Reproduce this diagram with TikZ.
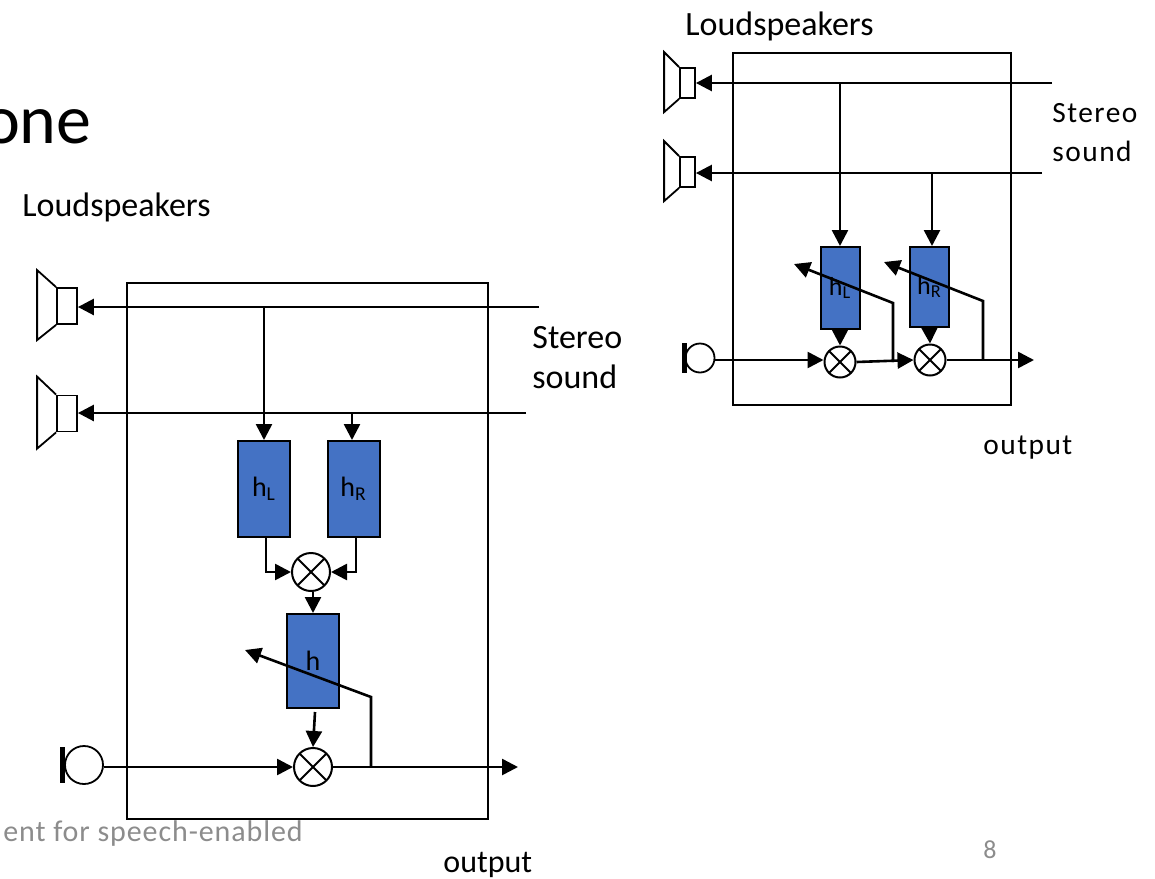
\documentclass[tikz,border=0pt]{standalone}
\usepackage{fontspec}
\setmainfont{Carlito}
\usepackage{xcolor}
\usetikzlibrary{arrows.meta}
\definecolor{filterblue}{HTML}{4472C4}
\definecolor{footgray}{HTML}{8C8C8C}
\tikzset{
    sig/.style={line width=1.3pt,-{Triangle[length=8pt,width=8pt]}},
    filterbox/.style={draw,line width=1pt,fill=filterblue,inner sep=0pt,font=\fontsize{14}{16}\selectfont},
    smallfilter/.style={filterbox,font=\fontsize{13}{15}\selectfont},
    roombox/.style={draw,line width=0.9pt,inner sep=0pt},
    speaker/.style={draw,line width=0.9pt,inner sep=0pt,minimum width=10pt,minimum height=18pt},
    smallspeaker/.style={speaker,minimum width=7.5pt,minimum height=15pt},
    mixer/.style={draw,circle,line width=1pt,inner sep=0pt,minimum size=#1,
        path picture={
            \draw[line width=0.9pt] (path picture bounding box.north west) -- (path picture bounding box.south east);
            \draw[line width=0.9pt] (path picture bounding box.north east) -- (path picture bounding box.south west);
        }},
    mic/.style={draw,circle,line width=0.9pt,inner sep=0pt,minimum size=#1},
    micbar/.style={fill=black,inner sep=0pt},
    label/.style={inner sep=0pt,font=\fontsize{17}{20}\selectfont},
    smalllabel/.style={inner sep=0pt,font=\fontsize{14.7}{18}\selectfont\addfontfeature{LetterSpace=5}}
}
\begin{document}
\begin{tikzpicture}[x=0.5pt,y=-0.5pt]
    \useasboundingbox (0,0) rectangle (1155,878);

    % Left: room and filters
    \node[roombox,minimum width=180.5pt,minimum height=268pt] (roomA) at (307.5,551) {};
    \node[filterbox,minimum width=26pt,minimum height=48pt] (hL) at (264,489) {h\textsubscript{L}};
    \node[filterbox,minimum width=26pt,minimum height=48pt] (hR) at (353.5,489) {h\textsubscript{R}};
    \node[filterbox,minimum width=26pt,minimum height=47pt] (hC) at (313,661) {h};
    \node[mixer=19pt] (mixA) at (311,572) {};
    \node[mixer=19pt] (mixB) at (313,767) {};

    % Left: loudspeakers
    \node[speaker] (spkA) at (67,306) {};
    \node[speaker] (spkB) at (67,413.5) {};
    \draw[line width=0.9pt] (spkA.north west) -- ++(-19,-17) -- ++(0,70) -- (spkA.south west);
    \draw[line width=0.9pt] (spkB.north west) -- ++(-19,-18) -- ++(0,72) -- (spkB.south west);

    % Left: microphone
    \node[mic=19pt] (micA) at (84,765) {};
    \node[micbar,minimum width=2.5pt,minimum height=18pt] (barA) at (62.5,765) {};

    % Left: free ends
    \coordinate (inA) at (539,307);
    \coordinate (inB) at (526,413);
    \coordinate (tapA) at (264,307);
    \coordinate (tapB) at (352,413);
    \coordinate (outA) at (518,767);
    \coordinate (kneeA) at (371,697);
    \coordinate (tipA) at (245,650);

    % Left: signal lines
    \draw[sig] (inA) -- (spkA.east |- inA);
    \draw[sig] (inB) -- (spkB.east |- inB);
    \draw[sig] (tapA) -- (hL.north);
    \draw[sig] (tapB) -- (tapB |- hR.north);
    \draw[sig] ([xshift=1pt]hL.south) |- (mixA.west);
    \draw[sig] ([xshift=1.25pt]hR.south) |- (mixA.east);
    \draw[sig] (hC.north |- mixA.south) -- (hC.north);
    \draw[sig] ([shift={(2,3)}]hC.south) -- (mixB.north);
    \draw[sig] (micA.east |- mixB.west) -- (mixB.west);
    \draw[sig] (mixB.east) -- (outA);
    \draw[sig] (kneeA |- outA) -- (kneeA) -- (tipA);

    % Right: room and filters
    \node[roombox,minimum width=139pt,minimum height=176pt] (roomB) at (872,229) {};
    \node[smallfilter,minimum width=19.5pt,minimum height=41pt] (hLb) at (840,288) {h\textsubscript{L}};
    \node[smallfilter,minimum width=19.5pt,minimum height=40pt] (hRb) at (929.5,287) {h\textsubscript{R}};
    \node[mixer=15.5pt] (mixC) at (840,362) {};
    \node[mixer=15.5pt] (mixD) at (930,360) {};

    % Right: loudspeakers
    \node[smallspeaker] (spkC) at (687.5,83) {};
    \node[smallspeaker] (spkD) at (687.5,172) {};
    \draw[line width=0.9pt] (spkC.north west) -- ++(-15,-15) -- ++(0,60) -- (spkC.south west);
    \draw[line width=0.9pt] (spkD.north west) -- ++(-15,-15) -- ++(0,60) -- (spkD.south west);

    % Right: microphone
    \node[mic=14.5pt] (micB) at (700,358) {};
    \node[micbar,minimum width=2.5pt,minimum height=15pt] (barB) at (684.5,358) {};

    % Right: free ends
    \coordinate (inC) at (1052,83);
    \coordinate (inD) at (1042,173);
    \coordinate (tapC) at (840,83);
    \coordinate (tapD) at (932,173);
    \coordinate (outB) at (1034,360);
    \coordinate (kneeB) at (893,303);
    \coordinate (tipB) at (794,264);
    \coordinate (kneeC) at (983,301);
    \coordinate (tipC) at (884,262);

    % Right: signal lines
    \draw[sig] (inC) -- (spkC.east |- inC);
    \draw[sig] (inD) -- (spkD.east |- inD);
    \draw[sig] (tapC) -- (hLb.north);
    \draw[sig] (tapD) -- (tapD |- hRb.north);
    \draw[sig] (hLb.south) -- (mixC.north);
    \draw[sig] (hRb.south) -- (mixD.north);
    \draw[sig] (micB.east |- outB) -- (mixC.west |- outB);
    \draw[sig] (mixC.east) -- (mixD.west);
    \draw[sig] (mixD.east) -- (outB);
    \draw[sig] (kneeB |- mixC.east) -- (kneeB) -- (tipB);
    \draw[sig] (kneeC |- outB) -- (kneeC) -- (tipC);

    % Labels
    \node[inner sep=0pt,anchor=base east,font=\fontsize{35}{38}\selectfont] (titleA) at (92,143) {one};
    \node[label,anchor=west] (loudA) at (22,207) {Loudspeakers};
    \node[label,anchor=west] (loudB) at (685,26) {Loudspeakers};
    \node[label,anchor=west] (stereoA) at (532,338) {Stereo};
    \node[label,anchor=west] (soundA) at (532,377) {sound};
    \node[label,anchor=west,font=\fontsize{16}{20}\selectfont] (outputA) at (443,865) {output};
    \node[smalllabel,anchor=west] (stereoB) at (1052,113) {Stereo};
    \node[smalllabel,anchor=west] (soundB) at (1052,151) {sound};
    \node[smalllabel,anchor=west] (outputB) at (983,448) {output};
    \node[inner sep=0pt,anchor=west,text=footgray,font=\fontsize{15}{18}\selectfont\addfontfeature{LetterSpace=3}] (footA) at (3,833) {ent for speech-enabled};
    \node[inner sep=0pt,text=footgray,font=\fontsize{13}{16}\selectfont] (pageA) at (990,850) {8};
\end{tikzpicture}
\end{document}
